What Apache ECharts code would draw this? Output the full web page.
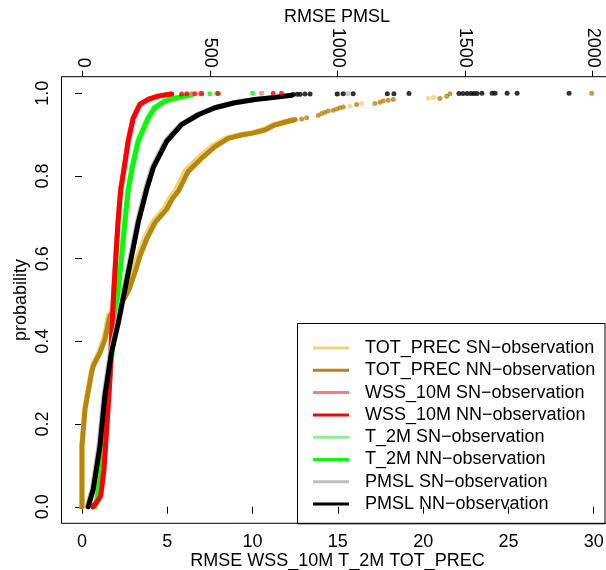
<!DOCTYPE html>
<html>
<head>
<meta charset="utf-8">
<script src="https://cdn.jsdelivr.net/npm/echarts@6/dist/echarts.min.js"></script>
<style>
html,body{margin:0;padding:0;background:#fff;}
#chart{width:606px;height:570px;}
</style>
</head>
<body>
<div id="chart"></div>
<script>
// ---------- tick labels / titles ----------
const xTicksBottom = [0, 5, 10, 15, 20, 25, 30];
const xTicksTop = [0, 500, 1000, 1500, 2000];
const yTicks = [0, 0.2, 0.4, 0.6, 0.8, 1.0];
const titleBottom = 'RMSE WSS_10M T_2M TOT_PREC';
const titleTop = 'RMSE PMSL';
const titleLeft = 'probability';

const legendNames = [
  'TOT_PREC SN\u2212observation', 'TOT_PREC NN\u2212observation',
  'WSS_10M SN\u2212observation', 'WSS_10M NN\u2212observation',
  'T_2M SN\u2212observation', 'T_2M NN\u2212observation',
  'PMSL SN\u2212observation', 'PMSL NN\u2212observation'
];

// ---------- TOT_PREC (bottom axis) ----------
const totPrecNN_x = [0, 0, 0.18, 0.57, 0.66, 1.06, 1.35, 1.64, 2.1, 2.5, 2.77, 3.1, 3.4, 3.79, 4.28, 4.96, 5.3, 5.65, 6.23, 7.02, 7.8, 8.58, 9.36, 9.95, 10.73, 11.3, 12.0, 12.5];
const totPrecNN_p = [0, 0.147, 0.236, 0.325, 0.34, 0.373, 0.405, 0.461, 0.485, 0.505, 0.526, 0.566, 0.606, 0.647, 0.687, 0.719, 0.745, 0.763, 0.811, 0.843, 0.871, 0.891, 0.899, 0.903, 0.911, 0.923, 0.931, 0.936];
const totPrecNN_tailX = [12.88, 13.17, 13.85, 14.05, 14.24, 14.44, 14.73, 14.93, 15.12, 15.32, 16.1, 17.17, 17.47, 17.66, 17.95, 18.25, 20.98, 21.38, 21.57, 29.88];
const totPrecNN_tailP = [0.938, 0.941, 0.946, 0.951, 0.954, 0.957, 0.959, 0.962, 0.965, 0.967, 0.973, 0.975, 0.978, 0.981, 0.983, 0.985, 0.987, 0.993, 0.999, 1.0];

const totPrecSN_x = [0, 0, 0.16, 0.54, 0.63, 1.0, 1.28, 1.56, 2.0, 2.4, 2.66, 2.98, 3.28, 3.66, 4.14, 4.8, 5.15, 5.5, 6.05, 6.85, 7.65, 8.45, 9.25, 9.85, 10.6, 11.2, 11.9, 12.4];
const totPrecSN_p = [0, 0.15, 0.238, 0.327, 0.342, 0.375, 0.407, 0.463, 0.487, 0.507, 0.528, 0.568, 0.608, 0.649, 0.689, 0.721, 0.747, 0.766, 0.813, 0.845, 0.873, 0.892, 0.9, 0.904, 0.912, 0.924, 0.932, 0.937];
const totPrecSN_tailX = [15.71, 16.4, 20.3, 20.6];
const totPrecSN_tailP = [0.969, 0.975, 0.988, 0.99];

// ---------- WSS_10M (bottom axis) ----------
const wssNN_x = [0.64, 0.85, 1.1, 1.29, 1.45, 1.64, 1.77, 1.88, 1.99, 2.12, 2.27, 2.48, 2.71, 3.01, 3.4, 3.89, 4.47, 5.26];
const wssNN_p = [0, 0.01, 0.026, 0.09, 0.187, 0.31, 0.445, 0.53, 0.606, 0.69, 0.765, 0.82, 0.884, 0.94, 0.973, 0.985, 0.993, 0.998];
const wssNN_tailX = [5.84, 6.14, 6.62, 7.02, 7.99, 11.21, 11.7];
const wssNN_tailP = [0.998, 0.9985, 0.999, 0.9993, 0.9995, 0.9998, 1.0];

const wssSN_x = [0.62, 0.83, 1.08, 1.27, 1.44, 1.63, 1.76, 1.87, 1.98, 2.11, 2.26, 2.47, 2.7, 2.99, 3.38, 3.86, 4.44, 5.2];
const wssSN_p = [0, 0.01, 0.026, 0.09, 0.187, 0.31, 0.445, 0.53, 0.606, 0.69, 0.765, 0.82, 0.884, 0.94, 0.973, 0.985, 0.993, 0.998];
const wssSN_tailX = [6.43, 6.92, 10.53];
const wssSN_tailP = [0.999, 0.9994, 0.9999];

// ---------- T_2M (bottom axis) ----------
const t2mNN_x = [0.76, 0.9, 1.05, 1.35, 1.62, 1.93, 2.13, 2.33, 2.52, 2.72, 2.95, 3.3, 3.89, 4.28, 4.87, 5.65, 6.43];
const t2mNN_p = [0, 0.02, 0.067, 0.187, 0.31, 0.445, 0.526, 0.606, 0.69, 0.767, 0.82, 0.884, 0.94, 0.965, 0.981, 0.99, 0.996];
const t2mNN_tailX = [7.0, 7.5, 7.9, 10.0];
const t2mNN_tailP = [0.998, 0.999, 0.9995, 1.0];

const t2mSN_x = [0.74, 0.88, 1.03, 1.33, 1.6, 1.91, 2.11, 2.31, 2.5, 2.7, 2.92, 3.27, 3.85, 4.24, 4.82, 5.6, 6.38];
const t2mSN_p = [0, 0.02, 0.067, 0.187, 0.31, 0.445, 0.526, 0.606, 0.69, 0.767, 0.82, 0.884, 0.94, 0.965, 0.981, 0.99, 0.996];

// ---------- PMSL (top axis) ----------
const pmslNN_x = [22, 42, 68, 87, 112, 140, 166, 192, 218, 251, 277, 330, 388, 454, 519, 597, 676, 754, 820];
const pmslNN_p = [0, 0.043, 0.147, 0.267, 0.37, 0.445, 0.526, 0.606, 0.687, 0.767, 0.82, 0.884, 0.924, 0.948, 0.965, 0.977, 0.985, 0.99, 0.995];
const pmslNN_tailX = [826, 841, 853, 872, 892, 998, 1022, 1061, 1195, 1221, 1280, 1476, 1492, 1508, 1523, 1535, 1547, 1566, 1606, 1618, 1665, 1704, 1908];
const pmslNN_tailP = [0.9972, 0.9975, 0.9977, 0.998, 0.9982, 0.9984, 0.9986, 0.9988, 0.9989, 0.999, 0.9991, 0.9992, 0.9993, 0.9994, 0.9995, 0.9996, 0.9996, 0.9997, 0.9998, 0.9998, 0.9999, 0.9999, 1.0];

const pmslSN_x = [18, 38, 64, 83, 108, 136, 162, 188, 214, 246, 272, 325, 383, 449, 514, 592, 671, 749, 815];
const pmslSN_p = [0, 0.043, 0.147, 0.267, 0.37, 0.445, 0.526, 0.606, 0.687, 0.767, 0.82, 0.884, 0.924, 0.948, 0.965, 0.977, 0.985, 0.99, 0.995];
const pmslSN_tailX = [1003, 1040];
const pmslSN_tailP = [0.9985, 0.9987];

// ---------- styles ----------
const colTotSN = '#EBD47C', colTotNN = '#B8860B';
const colWssSN = '#F08080', colWssNN = '#FF0000';
const colT2SN = '#90EE90', colT2NN = '#00FF00';
const colPmSN = '#BEBEBE', colPmNN = '#000000';
const FONT = '"Liberation Sans", Arial, Helvetica, sans-serif';

function zip(xs, ps) { return xs.map((x, i) => [x, ps[i]]); }

function curve(name, xs, ps, color, axis) {
  return {
    type: 'line', name: name, xAxisIndex: axis, yAxisIndex: 0,
    data: zip(xs, ps), showSymbol: false, symbol: 'none', smooth: false,
    color: color,
    lineStyle: { color: color, width: 5, cap: 'round', join: 'round' },
    itemStyle: { color: color }, silent: true, z: 2
  };
}
function tail(name, xs, ps, color, axis) {
  return {
    type: 'scatter', name: name, xAxisIndex: axis, yAxisIndex: 0,
    data: zip(xs, ps), symbol: 'circle', symbolSize: 5,
    color: color,
    itemStyle: { color: color }, silent: true, z: 2
  };
}

const series = [
  curve(legendNames[0], totPrecSN_x, totPrecSN_p, colTotSN, 0),
  tail(legendNames[0], totPrecSN_tailX, totPrecSN_tailP, colTotSN, 0),
  curve(legendNames[1], totPrecNN_x, totPrecNN_p, colTotNN, 0),
  tail(legendNames[1], totPrecNN_tailX, totPrecNN_tailP, colTotNN, 0),
  curve(legendNames[4], t2mSN_x, t2mSN_p, colT2SN, 0),
  curve(legendNames[5], t2mNN_x, t2mNN_p, colT2NN, 0),
  tail(legendNames[5], t2mNN_tailX, t2mNN_tailP, colT2NN, 0),
  curve(legendNames[2], wssSN_x, wssSN_p, colWssSN, 0),
  tail(legendNames[2], wssSN_tailX, wssSN_tailP, colWssSN, 0),
  curve(legendNames[3], wssNN_x, wssNN_p, colWssNN, 0),
  tail(legendNames[3], wssNN_tailX, wssNN_tailP, colWssNN, 0),
  curve(legendNames[6], pmslSN_x, pmslSN_p, colPmSN, 1),
  tail(legendNames[6], pmslSN_tailX, pmslSN_tailP, colPmSN, 1),
  curve(legendNames[7], pmslNN_x, pmslNN_p, colPmNN, 1),
  tail(legendNames[7], pmslNN_tailX, pmslNN_tailP, colPmNN, 1)
];

const legendColors = [colTotSN, colTotNN, colWssSN, colWssNN, colT2SN, colT2NN, colPmSN, colPmNN];
const titleFont = '18px ' + FONT;

const chart = echarts.init(document.getElementById('chart'), null, { renderer: 'canvas' });
chart.setOption({
  animation: false,
  backgroundColor: '#ffffff',
  textStyle: { fontFamily: FONT },
  grid: {
    left: 61.5, top: 76.7, right: -8.2, bottom: 46.7,
    containLabel: false, outerBoundsMode: 'none',
    show: true, borderColor: '#000', borderWidth: 1, backgroundColor: 'transparent'
  },
  xAxis: [
    {
      type: 'value', position: 'bottom', min: -1.2, max: 31.2,
      axisLine: { show: false },
      splitLine: { show: false },
      axisTick: { show: true, length: 7, customValues: xTicksBottom, lineStyle: { color: '#000', width: 1 } },
      axisLabel: { show: true, customValues: xTicksBottom, margin: 10, color: '#000', fontSize: 18, fontFamily: FONT,
        formatter: v => String(v) },
    },
    {
      type: 'value', position: 'top', min: -83, max: 2085,
      axisLine: { show: false },
      splitLine: { show: false },
      axisTick: { show: true, length: 6, customValues: xTicksTop, lineStyle: { color: '#000', width: 1 } },
      axisLabel: { show: true, customValues: xTicksTop, rotate: 90, margin: 9, color: '#000', fontSize: 18, fontFamily: FONT,
        formatter: v => String(v) },
    }
  ],
  yAxis: [{
    type: 'value', min: -0.04, max: 1.04,
    axisLine: { show: false },
    splitLine: { show: false },
    axisTick: { show: true, length: 7, customValues: yTicks, lineStyle: { color: '#000', width: 1 } },
    axisLabel: { show: true, customValues: yTicks, rotate: 90, margin: 9, color: '#000', fontSize: 18, fontFamily: FONT,
      formatter: v => v.toFixed(1) },
  }],
  legend: {
    show: true, orient: 'vertical', left: 313, top: 337, padding: 0,
    itemWidth: 36, itemHeight: 3, itemGap: 0.3, selectedMode: false,
    icon: 'rect',
    textStyle: { color: '#000', fontSize: 18, fontFamily: FONT, lineHeight: 22, padding: [0, 0, 0, 11] },
    data: legendNames.map((n, i) => ({ name: n, icon: 'rect', itemStyle: { color: legendColors[i] } }))
  },
  graphic: [
    {
      type: 'rect', left: 297, top: 323, z: 100,
      shape: { width: 307.5, height: 200.3 },
      style: { fill: 'rgba(0,0,0,0)', stroke: '#000', lineWidth: 1 }, silent: true
    },
    {
      type: 'text', x: 337.5, y: 561, z: 100, silent: true,
      style: { text: titleBottom, font: titleFont, fill: '#000', textAlign: 'center', textVerticalAlign: 'middle' }
    },
    {
      type: 'text', x: 337, y: 17, z: 100, silent: true,
      style: { text: titleTop, font: titleFont, fill: '#000', textAlign: 'center', textVerticalAlign: 'middle' }
    },
    {
      type: 'text', x: 21, y: 300, z: 100, silent: true, rotation: Math.PI / 2,
      style: { text: titleLeft, font: titleFont, fill: '#000', textAlign: 'center', textVerticalAlign: 'middle' }
    }
  ],
  series: series
});
</script>
</body>
</html>
